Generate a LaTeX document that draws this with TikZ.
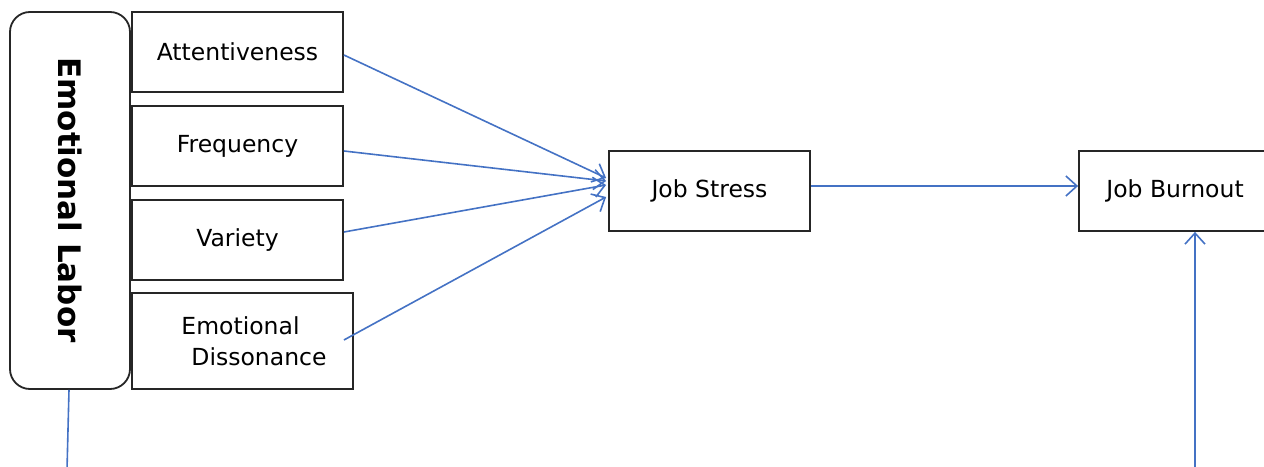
\documentclass[tikz,border=0pt]{standalone}
\usepackage{fontspec}
\setmainfont{DejaVu Sans}
\usetikzlibrary{arrows.meta,calc}
\definecolor{arrowblue}{HTML}{4472C4}
\begin{document}
\begin{tikzpicture}[x=1pt,y=-1pt,
  box/.style={draw=black!85,line width=1.8pt,fill=white,inner sep=0pt,minimum width=211pt,minimum height=80pt,font=\fontsize{23.5}{27}\selectfont},
  labeltext/.style={inner sep=0pt,font=\fontsize{23.5}{31}\selectfont,align=left},
  conn/.style={draw=arrowblue,line width=1.6pt},
  arr/.style={conn,-{Straight Barb[length=11pt,width=20pt,line width=1.6pt]}}]
\useasboundingbox (0,0) rectangle (1264,466);
\clip (0,0) rectangle (1264,466);
% Emotional Labor
\node[draw=black!85,line width=1.8pt,rounded corners=20pt,minimum width=120pt,minimum height=377pt,inner sep=0pt] (el) at (70,200.5) {};
\node[rotate=-90,inner sep=0pt,font=\fontsize{31}{36}\selectfont\bfseries] (eltext) at (70,200) {Emotional Labor};
% dimensions
\node[box] (att) at (237.5,52) {Attentiveness};
\node[box] (fre) at (237.5,146) {Frequency};
\node[box] (var) at (237.5,240) {Variety};
\node[box,minimum width=221pt,minimum height=96pt] (dis) at (242.5,341) {};
\node[labeltext] (distext) at (254,341) {Emotional\\\hspace*{10pt}Dissonance};
% outcomes
\node[box,minimum width=201pt] (js) at (709.5,191) {Job Stress};
\node[box,minimum width=192pt] (bu) at (1175,191) {Job Burnout};
% connectors
\draw[arr] ($(att.east)+(0,3)$) -- ($(js.west)+(-2,-13)$);
\draw[arr] ($(fre.east)+(0,5)$) -- ($(js.west)+(-2,-10)$);
\draw[arr] ($(var.east)+(0,-8)$) -- ($(js.west)+(-2,-6)$);
\draw[arr] ($(dis.east)+(-10,-1)$) -- ($(js.west)+(-2,6)$);
\draw[arr] ($(js.east)+(0,-5)$) -- ($(bu.west)+(0,-5)$);
\coordinate (elend) at (67,470);
\coordinate (bustart) at (1195,470);
\draw[conn] ($(el.south)+(-1,0)$) -- (elend);
\draw[arr] (bustart) -- (bustart |- bu.south);
\end{tikzpicture}
\end{document}
